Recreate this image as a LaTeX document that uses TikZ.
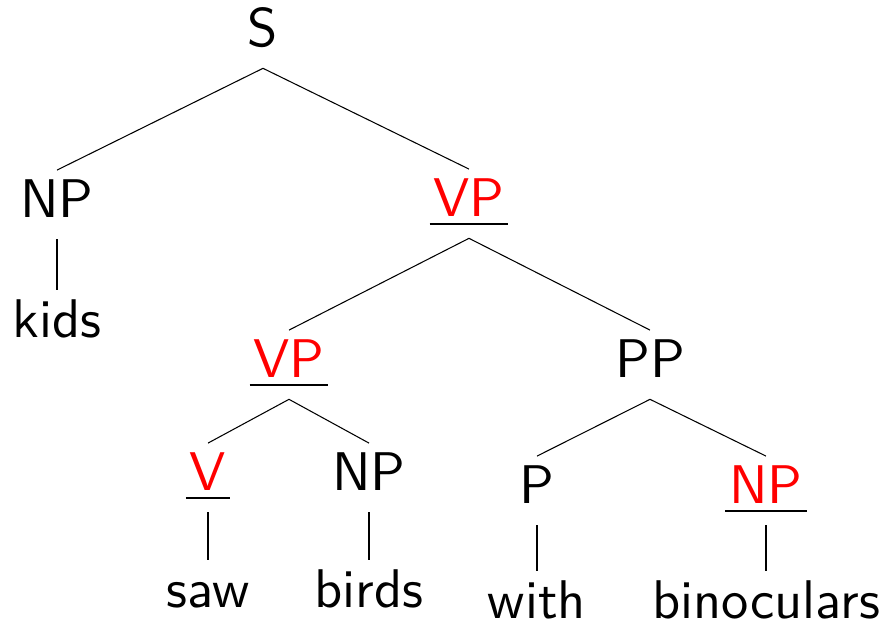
\documentclass[tikz,border=0pt]{standalone}
\usepackage{fontspec}
\setsansfont{lmsans10-regular.otf}

\begin{document}
\begin{tikzpicture}[
    x=0.02cm, y=-0.02cm,
    cat/.style={anchor=base, inner xsep=2pt, inner ysep=4.5pt,
        text height=22pt, text depth=8pt,
        font=\fontsize{31}{36}\selectfont\sffamily},
    head/.style={cat, text=red},
    leaf/.style={cat, text depth=0pt},
    branch/.style={line width=0.6pt, -},
    bar/.style={line width=1.5pt}
]
    \useasboundingbox (0,0) rectangle (885,623);

    \node[cat]  (s)    at (263,46)  {S};
    \node[cat]  (np)   at (57,217)  {NP};
    \node[head] (vp)   at (469,216) {VP};
    \node[leaf] (kids) at (57,337)  {kids};
    \node[head] (vpa)  at (289,377) {VP};
    \node[cat]  (pp)   at (650,377) {PP};
    \node[head] (v)    at (208,490) {V};
    \node[cat]  (npa)  at (369,490) {NP};
    \node[cat]  (p)    at (537,503) {P};
    \node[head] (npb)  at (766,503) {NP};
    \node[leaf] (saw)  at (208,607) {saw};
    \node[leaf] (birds) at (369,607) {birds};
    \node[leaf] (with) at (537,618) {with};
    \node[leaf] (bino) at (766,618) {binoculars};

    % underline the head path
    \foreach \n in {vp, vpa, v, npb}
        \draw[bar] ([yshift=-4.5pt]\n.base west) -- ([yshift=-4.5pt]\n.base east);

    \draw[branch] (s.south) -- (np.north);
    \draw[branch] (s.south) -- (vp.north);
    \draw[branch] (np.south) -- (kids.north);
    \draw[branch] (vp.south) -- (vpa.north);
    \draw[branch] (vp.south) -- (pp.north);
    \draw[branch] (vpa.south) -- (v.north);
    \draw[branch] (vpa.south) -- (npa.north);
    \draw[branch] (pp.south) -- (p.north);
    \draw[branch] (pp.south) -- (npb.north);
    \draw[branch] (v.south) -- (saw.north);
    \draw[branch] (npa.south) -- (birds.north);
    \draw[branch] (p.south) -- (with.north);
    \draw[branch] (npb.south) -- (bino.north);
\end{tikzpicture}
\end{document}
